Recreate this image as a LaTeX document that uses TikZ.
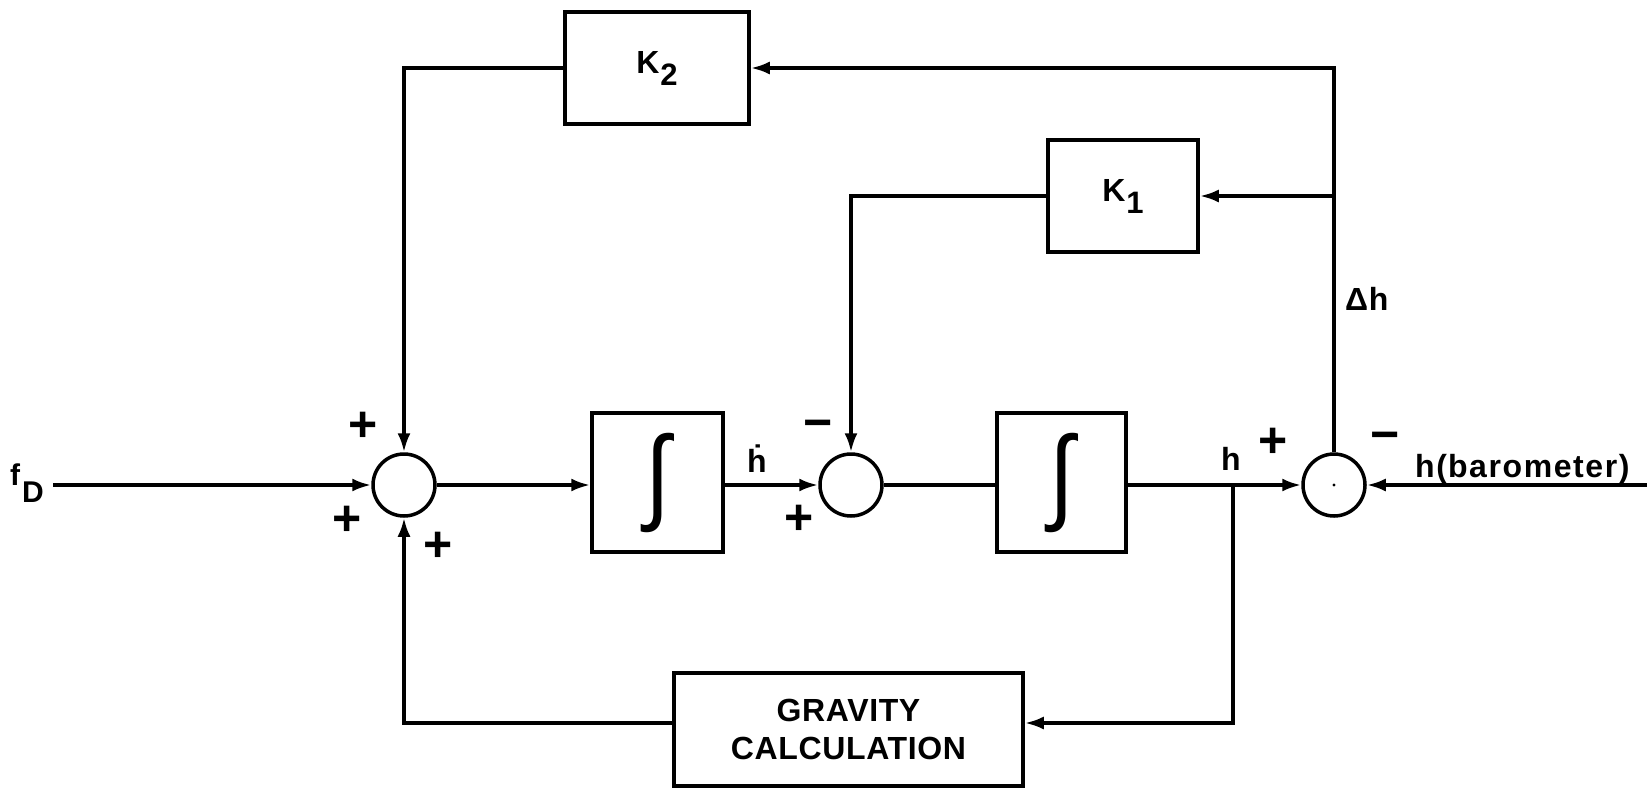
\documentclass[tikz,border=0pt]{standalone}
\usepackage{fontspec}
\setmainfont{Liberation Sans}[LetterSpace=2]
\usetikzlibrary{arrows.meta}
\newcommand{\intsym}{\scalebox{0.9}[1.05]{\fontsize{100}{100}\selectfont\mdseries ∫}}
\begin{document}
\begin{tikzpicture}[x=1pt,y=-1pt,
  line/.style={line width=3.5pt},
  arr/.style={line width=3.5pt, -{Latex[length=19pt,width=13pt]}},
  blockbox/.style={draw, line width=3.5pt, inner sep=0pt, align=center,
    font=\fontsize{32}{38}\selectfont\bfseries},
  sumnode/.style={draw, circle, line width=3.5pt, minimum size=62pt, inner sep=0pt},
  lbl/.style={inner sep=0pt, font=\fontsize{32}{38}\selectfont\bfseries},
  sign/.style={inner sep=0pt, font=\fontsize{50}{50}\selectfont\bfseries}]
\useasboundingbox (0,0) rectangle (1647,788);
% summing junctions
\node[sumnode] (s1) at (404,485) {};
\node[sumnode] (s2) at (851,485) {};
\node[sumnode] (s3) at (1334,485) {};
\fill (s3.center) circle (1.6pt);
% blocks
\node[blockbox, minimum width=131pt, minimum height=139pt] (i1) at (657.5,482.5) {\intsym};
\node[blockbox, minimum width=129pt, minimum height=139pt] (i2) at (1061.5,482.5) {\intsym};
\node[blockbox, minimum width=184pt, minimum height=112pt] (k2) at (657,68)
  {K\kern1pt\raisebox{-12pt}{\fontsize{31}{31}\selectfont 2}};
\node[blockbox, minimum width=150pt, minimum height=112pt] (k1) at (1123,196)
  {K\kern1pt\raisebox{-12pt}{\fontsize{31}{31}\selectfont 1}};
\node[blockbox, minimum width=349pt, minimum height=113pt] (g) at (848.5,729.5)
  {GRAVITY\\CALCULATION};
% free ends
\coordinate (fin) at (53,485);
\coordinate (bin) at (1647,485);
\coordinate (hb) at (1233,485);
\coordinate (gl) at (1233,723);
% connectors
\draw[arr] (fin) -- (s1);
\draw[arr] (s1) -- (s1 -| i1.west);
\draw[arr] (i1.east |- s2) -- (s2);
\draw[line] (s2) -- (s2 -| i2.west);
\draw[arr] (i2.east |- s3) -- (s3);
\draw[arr] (bin) -- (s3);
\draw[arr] (s3) -- (s3 |- k2) -- (k2);
\draw[arr] (s3 |- k1) -- (k1);
\draw[arr] (k2) -- (k2 -| s1) -- (s1);
\draw[arr] (k1) -- (k1 -| s2) -- (s2);
\draw[arr] (hb) -- (gl) -- (gl -| g.east);
\draw[arr] (g.west |- gl) -- (gl -| s1) -- (s1);
% labels
\node[lbl, anchor=base west, font=\fontsize{30}{36}\selectfont\bfseries] (fD) at (10,485)
  {f\kern2pt\raisebox{-17pt}{D}};
\node[lbl, anchor=base west] (hdot) at (747,472) {ḣ};
\node[lbl, anchor=base west] (hout) at (1221,470) {h};
\node[lbl, anchor=base west] (dh) at (1345,310) {Δh};
\node[lbl, anchor=base west, font=\fontsize{32}{38}\selectfont\bfseries\addfontfeatures{LetterSpace=5}] (hbar) at (1415,477)
  {h(\kern1pt barometer)};
% signs
\node[sign] (p1) at (363,427) {+};
\node[sign] (p2) at (347,521) {+};
\node[sign] (p3) at (438,547) {+};
\node[sign] (m2) at (818,430) {−};
\node[sign] (p4) at (799,520) {+};
\node[sign] (p5) at (1273,443) {+};
\node[sign] (m3) at (1385,442) {−};
\end{tikzpicture}
\end{document}
